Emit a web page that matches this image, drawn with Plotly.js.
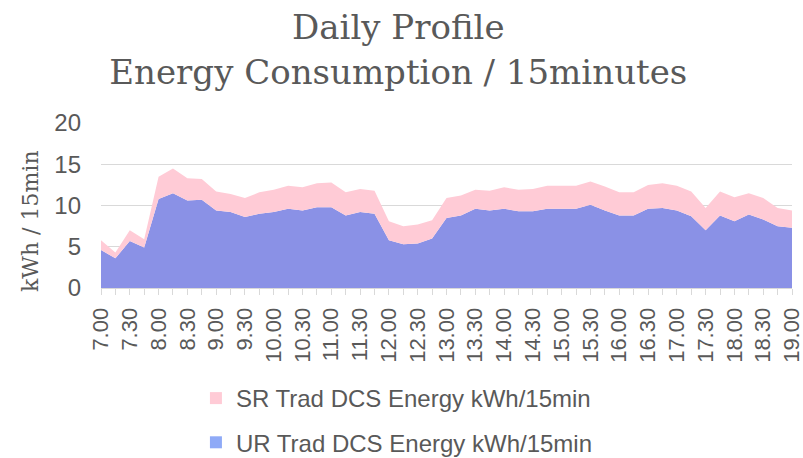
<!DOCTYPE html>
<html>
<head>
<meta charset="utf-8">
<script src="https://cdn.plot.ly/plotly-3.0.1.min.js"></script>
<style>html,body{margin:0;padding:0;background:#fff;}#chart{width:803px;height:458px;}</style>
</head>
<body>
<div id="chart"></div>
<script>
var times = ["7.00","7.15","7.30","7.45","8.00","8.15","8.30","8.45","9.00","9.15","9.30","9.45",
  "10.00","10.15","10.30","10.45","11.00","11.15","11.30","11.45","12.00","12.15","12.30","12.45",
  "13.00","13.15","13.30","13.45","14.00","14.15","14.30","14.45","15.00","15.15","15.30","15.45",
  "16.00","16.15","16.30","16.45","17.00","17.15","17.30","17.45","18.00","18.15","18.30","18.45","19.00"];
var urEnergy = [4.6,3.6,5.7,4.9,10.8,11.5,10.6,10.7,9.4,9.2,8.6,9.0,
  9.2,9.6,9.4,9.8,9.8,8.8,9.2,9.0,5.8,5.3,5.4,6.0,
  8.5,8.8,9.6,9.4,9.6,9.3,9.3,9.6,9.6,9.6,10.1,9.4,
  8.8,8.8,9.6,9.7,9.4,8.7,7.0,8.8,8.1,8.9,8.3,7.5,7.3];
var srEnergy = [1.2,0.7,1.3,1.0,2.7,3.0,2.7,2.5,2.3,2.2,2.3,2.6,
  2.7,2.8,2.8,2.9,3.0,2.8,2.8,2.8,2.3,2.2,2.3,2.2,
  2.4,2.4,2.3,2.4,2.6,2.6,2.7,2.8,2.8,2.8,2.8,2.9,
  2.8,2.8,2.9,3.0,3.0,3.0,2.7,2.9,2.9,2.6,2.6,2.2,2.1];
var srName = "SR Trad DCS Energy kWh/15min";
var urName = "UR Trad DCS Energy kWh/15min";
var yTitle = "kWh / 15min";
var tickText = times.map(function(t, i){ return i % 2 === 0 ? t : ""; });

var grey = "#595959";
var data = [
  {type:"scatter", mode:"none", x:times, y:urEnergy, name:urName, stackgroup:"one",
   fillcolor:"#8A91E6", line:{width:0}, showlegend:false},
  {type:"scatter", mode:"none", x:times, y:srEnergy, name:srName, stackgroup:"one",
   fillcolor:"#FFCBD6", line:{width:0}, showlegend:false},
  {type:"bar", x:[times[0]], y:[0], name:srName, marker:{color:"#FFCBD6", line:{width:0}},
   legendgroup:"sr", showlegend:true},
  {type:"bar", x:[times[0]], y:[0], name:urName, marker:{color:"#8FAAF7", line:{width:0}},
   legendgroup:"ur", showlegend:true}
];

var layout = {
  width:803, height:458,
  margin:{l:101, r:11, t:123, b:170, pad:0, autoexpand:false},
  paper_bgcolor:"#ffffff", plot_bgcolor:"#ffffff",
  title:{text:"Daily Profile<br>Energy Consumption / 15minutes",
    font:{family:"DejaVu Serif", size:34, color:grey},
    xref:"container", x:0.496, xanchor:"center",
    yref:"container", y:0.914, yanchor:"top"},
  xaxis:{type:"category", range:[0,48], tickmode:"array", tickvals:times, ticktext:tickText,
    tickangle:-90, tickfont:{family:"Liberation Sans", size:22, color:grey},
    showline:true, linecolor:"#d9d9d9", linewidth:1, ticks:"outside", ticklen:6, tickcolor:"#d9d9d9",
    ticklabelstandoff:4, showgrid:false, zeroline:false, fixedrange:true, automargin:false},
  yaxis:{range:[0,20], dtick:5, tick0:0, showgrid:true, gridcolor:"#d9d9d9", gridwidth:1,
    zeroline:false, showline:false, ticks:"", ticklabelstandoff:19,
    tickfont:{family:"Liberation Sans", size:24, color:grey}, fixedrange:true, automargin:false},
  annotations:[{text:yTitle, textangle:-90, xref:"paper", yref:"paper",
    x:-71/691, y:(288-221)/165, xanchor:"center", yanchor:"middle", showarrow:false,
    font:{family:"DejaVu Serif", size:22, color:grey}}],
  showlegend:true,
  legend:{orientation:"v", xref:"container", yref:"container", x:0.244, xanchor:"left",
    y:1-376/458, yanchor:"top", traceorder:"grouped", tracegroupgap:10,
    font:{family:"Liberation Sans", size:24, color:grey}, bgcolor:"rgba(0,0,0,0)"},
  hovermode:false
};

Plotly.newPlot("chart", data, layout, {displayModeBar:false, staticPlot:true});
</script>
</body>
</html>
